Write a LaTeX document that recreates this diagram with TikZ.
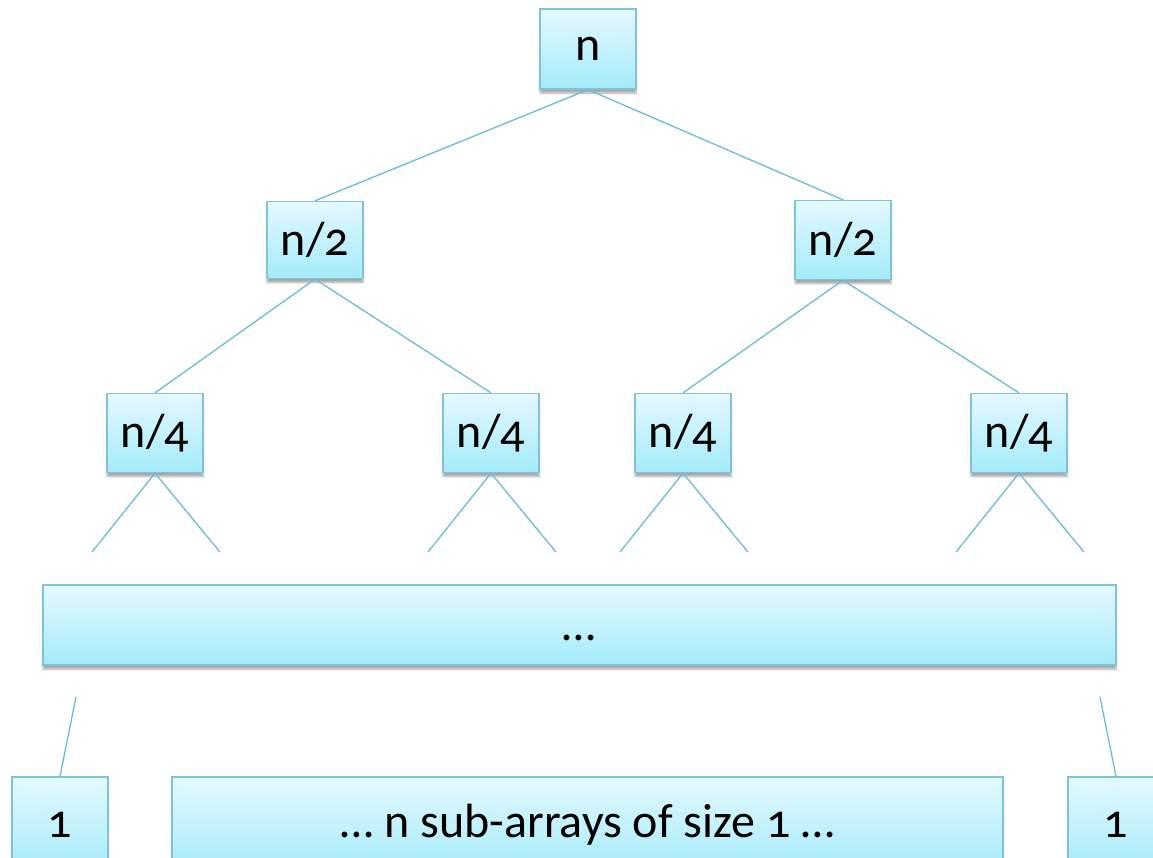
\documentclass[tikz,border=0pt]{standalone}
\usepackage{fontspec}
\setmainfont[Numbers=OldStyle]{Carlito}
\usetikzlibrary{shadows.blur}
\definecolor{boxtop}{HTML}{E4F9FE}
\definecolor{boxbot}{HTML}{A4EAFA}
\definecolor{boxedge}{HTML}{80C4D4}
\definecolor{edgecol}{HTML}{6CBCD0}
\tikzset{
  treebox/.style={draw=boxedge, line width=1.3pt, top color=boxtop, bottom color=boxbot,
    inner sep=0pt, text=black, font=\fontsize{48}{56}\selectfont,
    blur shadow={shadow xshift=0pt, shadow yshift=-4pt, shadow blur steps=6, shadow opacity=35}},
  link/.style={draw=edgecol, line width=1.3pt}
}
\begin{document}
\begin{tikzpicture}[x=1pt,y=-1pt]
\useasboundingbox (0,0) rectangle (1153,857);
\clip (0,0) rectangle (1153,857);
% tree levels
\node[treebox, minimum width=96pt, minimum height=80pt] (root) at (588,49) {n};
\node[treebox, minimum width=96pt, minimum height=77pt] (hl) at (315,240) {n/2};
\node[treebox, minimum width=96pt, minimum height=79pt] (hr) at (843,240) {n/2};
\node[treebox, minimum width=96pt, minimum height=79pt] (q1) at (155,433) {n/4};
\node[treebox, minimum width=96pt, minimum height=79pt] (q2) at (491,433) {n/4};
\node[treebox, minimum width=96pt, minimum height=79pt] (q3) at (683,433) {n/4};
\node[treebox, minimum width=96pt, minimum height=79pt] (q4) at (1019,433) {n/4};
% collapsed middle levels
\node[treebox, minimum width=1073pt, minimum height=80pt] (mid) at (579.5,625) {\vphantom{n/}\textellipsis};
% leaves
\node[treebox, minimum width=96pt, minimum height=96pt] (leafl) at (60,825) {1};
\node[treebox, minimum width=831pt, minimum height=96pt] (leafm) at (587.5,825) {\textellipsis{} n sub-arrays of size 1 \textellipsis};
\node[treebox, minimum width=96pt, minimum height=96pt] (leafr) at (1116,825) {1};
% free ends of the truncated branches
\coordinate (e1a) at (92,552);  \coordinate (e1b) at (220,552);
\coordinate (e2a) at (428,552); \coordinate (e2b) at (556,552);
\coordinate (e3a) at (620,552); \coordinate (e3b) at (748,552);
\coordinate (e4a) at (956,552); \coordinate (e4b) at (1084,552);
\coordinate (sl) at (76,697);   \coordinate (sr) at (1100,697);
% branches
\draw[link] (root.south) -- (hl.north);
\draw[link] (root.south) -- (hr.north);
\draw[link] (hl.south) -- (q1.north);
\draw[link] (hl.south) -- (q2.north);
\draw[link] (hr.south) -- (q3.north);
\draw[link] (hr.south) -- (q4.north);
\draw[link] (e1a) -- (q1.south) -- (e1b);
\draw[link] (e2a) -- (q2.south) -- (e2b);
\draw[link] (e3a) -- (q3.south) -- (e3b);
\draw[link] (e4a) -- (q4.south) -- (e4b);
\draw[link] (sl) -- (leafl.north);
\draw[link] (sr) -- (leafr.north);
\end{tikzpicture}
\end{document}
